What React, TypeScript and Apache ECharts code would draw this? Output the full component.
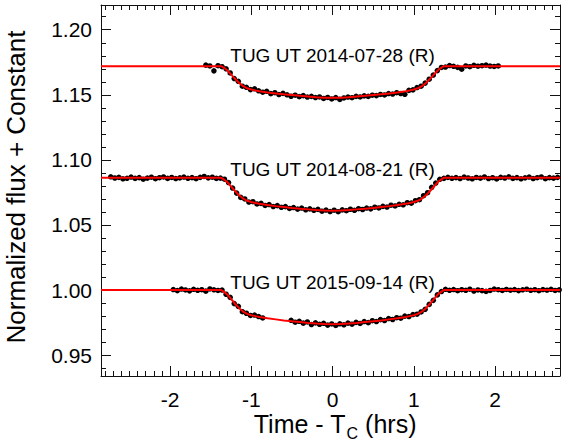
import { useEffect, useRef } from 'react';
import * as echarts from 'echarts';

const FONT = '"Liberation Sans", Arial, Helvetica, sans-serif';

// Axis ranges and ticks
const X_MIN = -2.85;
const X_MAX = 2.8;
const Y_MIN = 0.934;
const Y_MAX = 1.219;
const X_TICKS = [-2, -1, 0, 1, 2];
const Y_TICKS = [0.95, 1.0, 1.05, 1.1, 1.15, 1.2];

// Observation cadence (hours)
const STEP = 0.05;

// Light curve 1: TUG UT 2014-07-28 (R)
const LC1_START = -1.56;
const LC1_FLUX = [
  1.1728, 1.1722, 1.1684, 1.1724, 1.1716, 1.1700, 1.1668, 1.1625, 1.1604, 1.1566,
  1.1558, 1.1540, 1.1546, 1.1531, 1.1520, 1.1527, 1.1509, 1.1516, 1.1502, 1.1511,
  1.1500, 1.1489, 1.1497, 1.1486, 1.1494, 1.1483, 1.1488, 1.1479, 1.1484, 1.1472,
  1.1480, 1.1468, 1.1479, 1.1465, 1.1476, 1.1483, 1.1478, 1.1488, 1.1484, 1.1492,
  1.1488, 1.1497, 1.1494, 1.1503, 1.1499, 1.1510, 1.1506, 1.1516, 1.1510, 1.1504,
  1.1534, 1.1538, 1.1556, 1.1566, 1.1590, 1.1620, 1.1652, 1.1686, 1.1710, 1.1713,
  1.1725, 1.1719, 1.1711, 1.1697, 1.1722, 1.1716, 1.1727, 1.1720, 1.1724, 1.1728,
  1.1721, 1.1718, 1.1722,
];

// Light curve 2: TUG UT 2014-08-21 (R)
const LC2_START = -2.73;
const LC2_FLUX = [
  1.0870, 1.0861, 1.0866, 1.0855, 1.0859, 1.0868, 1.0858, 1.0864, 1.0852, 1.0860,
  1.0867, 1.0856, 1.0863, 1.0869, 1.0858, 1.0865, 1.0857, 1.0862, 1.0868, 1.0859,
  1.0864, 1.0856, 1.0866, 1.0873, 1.0862, 1.0867, 1.0858, 1.0860, 1.0852, 1.0826,
  1.0784, 1.0745, 1.0712, 1.0700, 1.0676, 1.0679, 1.0662, 1.0666, 1.0650, 1.0657,
  1.0642, 1.0649, 1.0636, 1.0641, 1.0627, 1.0634, 1.0622, 1.0630, 1.0617, 1.0624,
  1.0613, 1.0620, 1.0606, 1.0615, 1.0603, 1.0614, 1.0602, 1.0616, 1.0610, 1.0621,
  1.0613, 1.0625, 1.0619, 1.0630, 1.0624, 1.0637, 1.0631, 1.0643, 1.0638, 1.0652,
  1.0646, 1.0659, 1.0655, 1.0671, 1.0668, 1.0687, 1.0694, 1.0725, 1.0748, 1.0789,
  1.0822, 1.0851, 1.0858, 1.0866, 1.0859, 1.0864, 1.0857, 1.0868, 1.0861, 1.0855,
  1.0865, 1.0860, 1.0869, 1.0857, 1.0863, 1.0854, 1.0866, 1.0861, 1.0870, 1.0858,
  1.0864, 1.0855, 1.0862, 1.0868, 1.0857, 1.0863, 1.0869, 1.0856, 1.0864, 1.0860,
  1.0866,
];

// Light curve 3: TUG UT 2015-09-14 (R)  (null = no observation)
const LC3_START = -1.96;
const LC3_FLUX: (number | null)[] = [
  1.0004, 0.9996, 1.0008, 1.0001, 0.9994, 1.0006, 0.9998, 1.0003, 0.9992, 1.0009,
  1.0002, 0.9997, 1.0000, 0.9968, 0.9944, 0.9896, 0.9875, 0.9834, 0.9822, 0.9805,
  0.9808, 0.9797, 0.9786, null, null, null, null, null, null, 0.9768,
  0.9753, 0.9760, 0.9746, 0.9755, 0.9735, 0.9748, 0.9737, 0.9745, 0.9731, 0.9740,
  0.9728, 0.9741, 0.9733, 0.9746, 0.9738, 0.9752, 0.9744, 0.9758, 0.9750, 0.9765,
  0.9758, 0.9773, 0.9766, 0.9781, 0.9774, 0.9788, 0.9784, 0.9800, 0.9797, 0.9812,
  0.9815, 0.9832, 0.9852, 0.9890, 0.9921, 0.9963, 0.9989, 1.0006, 0.9998, 1.0004,
  0.9995, 1.0003, 0.9998, 1.0007, 0.9993, 1.0001, 0.9996, 0.9990, 0.9997, 1.0008,
  1.0003, 0.9997, 1.0005, 0.9999, 1.0004, 0.9996, 1.0002, 1.0007, 0.9998, 1.0003,
  0.9995, 1.0004, 0.9999, 1.0006, 0.9997, 1.0002,
];

// Transit model curves (red lines)
const MODEL_T = [
  -2.85, -1.37, -1.35, -1.3, -1.25, -1.2, -1.15, -1.1, -1.05, -1.0, -0.95, -0.9,
  -0.8, -0.7, -0.6, -0.5, -0.4, -0.3, -0.2, -0.1, 0,
  0.1, 0.2, 0.3, 0.4, 0.5, 0.6, 0.7, 0.8, 0.9, 0.95, 1.0, 1.05, 1.1, 1.15, 1.2,
  1.25, 1.3, 1.35, 1.37, 2.8,
];
const MODEL_1 = [
  1.1720, 1.1720, 1.1713, 1.1691, 1.1657, 1.1623, 1.1591, 1.1567, 1.1550, 1.1541,
  1.1534, 1.1528, 1.1518, 1.1511, 1.1504, 1.1498, 1.1492, 1.1487, 1.1482, 1.1478, 1.1477,
  1.1478, 1.1482, 1.1487, 1.1492, 1.1498, 1.1504, 1.1511, 1.1518, 1.1528, 1.1534,
  1.1541, 1.1550, 1.1567, 1.1591, 1.1623, 1.1657, 1.1691, 1.1713, 1.1720, 1.1720,
];
const MODEL_2 = [
  1.0862, 1.0862, 1.0854, 1.0832, 1.0796, 1.0761, 1.0728, 1.0703, 1.0686, 1.0677,
  1.0669, 1.0663, 1.0653, 1.0645, 1.0638, 1.0631, 1.0625, 1.0620, 1.0615, 1.0611, 1.0610,
  1.0611, 1.0615, 1.0620, 1.0625, 1.0631, 1.0638, 1.0645, 1.0653, 1.0663, 1.0669,
  1.0677, 1.0686, 1.0703, 1.0728, 1.0761, 1.0796, 1.0832, 1.0854, 1.0862, 1.0862,
];
const MODEL_3 = [
  1.0000, 1.0000, 0.9992, 0.9969, 0.9932, 0.9895, 0.9861, 0.9835, 0.9817, 0.9807,
  0.9800, 0.9793, 0.9783, 0.9775, 0.9767, 0.9760, 0.9754, 0.9748, 0.9743, 0.9739, 0.9738,
  0.9739, 0.9743, 0.9748, 0.9754, 0.9760, 0.9767, 0.9775, 0.9783, 0.9793, 0.9800,
  0.9807, 0.9817, 0.9835, 0.9861, 0.9895, 0.9932, 0.9969, 0.9992, 1.0000, 1.0000,
];

// Annotations
const ANNOT_TEXT = ['TUG UT 2014-07-28 (R)', 'TUG UT 2014-08-21 (R)', 'TUG UT 2015-09-14 (R)'];
const ANNOT_T = 0;
const ANNOT_Y = [1.1804, 1.0928, 1.0062];

function points(start: number, flux: (number | null)[]) {
  const out: number[][] = [];
  flux.forEach((v, i) => {
    if (v !== null) out.push([+(start + STEP * i).toFixed(3), v]);
  });
  return out;
}

function minorRange(from: number, to: number, div: number) {
  const out: number[] = [];
  for (let k = from; k <= to; k++) out.push(k / div);
  return out;
}

export default function App() {
  const ref = useRef<HTMLDivElement>(null);

  useEffect(() => {
    if (!ref.current) return;
    const chart = echarts.init(ref.current, null, { renderer: 'svg' });
    const lineStyle = { color: '#111', width: 1 };
    const xMinor = minorRange(-28, 28, 10);
    const yMinor = minorRange(94, 121, 100);

    const mkX = (position: string, major: boolean, first: boolean) => ({
      type: 'value',
      min: X_MIN,
      max: X_MAX,
      position,
      axisLine: { show: major, onZero: false, lineStyle },
      axisTick: {
        show: true,
        inside: true,
        length: major ? 10 : 5,
        customValues: major ? X_TICKS : xMinor,
        lineStyle,
      },
      axisLabel: first
        ? { show: true, customValues: X_TICKS, fontSize: 21, color: '#000', fontFamily: FONT, margin: 13 }
        : { show: false },
      splitLine: { show: false },
    });
    const mkY = (position: string, major: boolean, first: boolean) => ({
      type: 'value',
      min: Y_MIN,
      max: Y_MAX,
      position,
      axisLine: { show: major, onZero: false, lineStyle },
      axisTick: {
        show: true,
        inside: true,
        length: major ? 10 : 5,
        customValues: major ? Y_TICKS : yMinor,
        lineStyle,
      },
      axisLabel: first
        ? {
            show: true,
            customValues: Y_TICKS,
            formatter: (v: number) => v.toFixed(2),
            fontSize: 21,
            color: '#000',
            fontFamily: FONT,
            margin: 9,
          }
        : { show: false },
      splitLine: { show: false },
    });

    const curves = [
      { start: LC1_START, flux: LC1_FLUX, model: MODEL_1 },
      { start: LC2_START, flux: LC2_FLUX, model: MODEL_2 },
      { start: LC3_START, flux: LC3_FLUX, model: MODEL_3 },
    ];

    const series: any[] = [];
    curves.forEach((c) => {
      series.push({
        type: 'scatter',
        data: points(c.start, c.flux),
        symbol: 'circle',
        symbolSize: 5.5,
        itemStyle: { color: '#000', opacity: 1 },
        z: 2,
        silent: true,
      });
    });
    curves.forEach((c) => {
      series.push({
        type: 'line',
        data: MODEL_T.map((t, i) => [t, c.model[i]]),
        symbol: 'none',
        lineStyle: { color: '#ff0000', width: 2 },
        z: 3,
        silent: true,
      });
    });
    series.push({
      type: 'scatter',
      data: ANNOT_TEXT.map((t, i) => ({ name: t, value: [ANNOT_T, ANNOT_Y[i]] })),
      symbolSize: 1,
      itemStyle: { color: 'rgba(0,0,0,0)' },
      label: {
        show: true,
        position: 'inside',
        formatter: '{b}',
        fontSize: 19,
        color: '#000',
        opacity: 1,
        textBorderWidth: 0,
        fontFamily: FONT,
      },
      z: 5,
      silent: true,
    });

    chart.setOption({
      animation: false,
      backgroundColor: '#fff',
      grid: { left: 101, right: 2, top: 5, bottom: 70, outerBoundsMode: 'none' },
      xAxis: [
        mkX('bottom', true, true),
        mkX('bottom', false, false),
        mkX('top', true, false),
        mkX('top', false, false),
      ],
      yAxis: [
        mkY('left', true, true),
        mkY('left', false, false),
        mkY('right', true, false),
        mkY('right', false, false),
      ],
      series,
      graphic: [
        {
          type: 'text',
          x: 16,
          y: 187,
          rotation: Math.PI / 2,
          style: {
            text: 'Normalized flux + Constant',
            fontSize: 26,
            fontFamily: FONT,
            fill: '#000',
            align: 'center',
            verticalAlign: 'middle',
          },
        },
        {
          type: 'text',
          x: 335,
          y: 423.5,
          style: {
            text: '{a|Time - T}{b|C}{a| (hrs)}',
            align: 'center',
            verticalAlign: 'middle',
            fill: '#000',
            fontFamily: FONT,
            rich: {
              a: { fontSize: 25, lineHeight: 25, fontFamily: FONT, fill: '#000', verticalAlign: 'top' },
              b: {
                fontSize: 16,
                lineHeight: 16,
                fontFamily: FONT,
                fill: '#000',
                verticalAlign: 'top',
                padding: [14, 0, 0, 1],
              },
            },
          },
        },
      ],
    });

    return () => chart.dispose();
  }, []);

  return (
    <div
      ref={ref}
      style={{ position: 'fixed', left: 0, top: 0, width: 562, height: 446, background: '#fff' }}
    />
  );
}
